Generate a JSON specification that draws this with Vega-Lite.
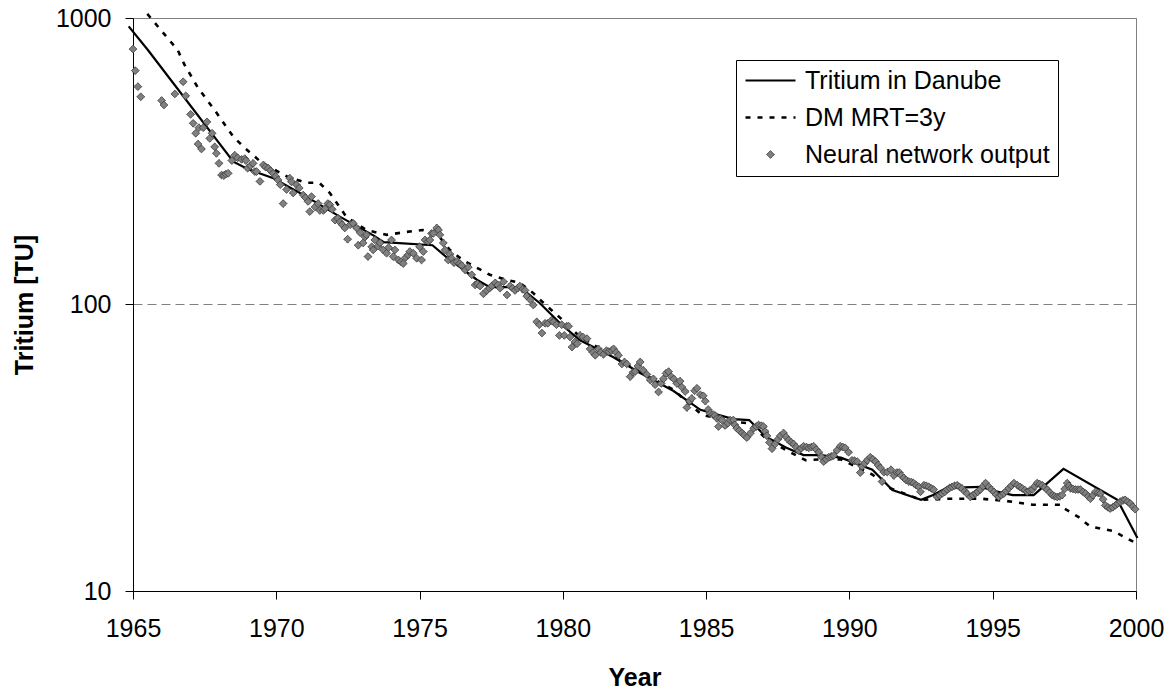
{
"$schema": "https://vega.github.io/schema/vega-lite/v6.json",
"width": 1003, "height": 573,
"autosize": "none",
"padding": {"left": 133, "top": 18, "right": 34, "bottom": 100},
"background": "white",
"config": {"view": {"stroke": "#808080", "strokeWidth": 1}, "font": "Liberation Sans",
"legend": {"orient": "none", "legendX": 603, "legendY": 42, "title": null,
"strokeColor": "black", "fillColor": "white", "padding": 8,
"labelFont": "Liberation Sans", "labelFontSize": 25, "labelColor": "black", "labelLimit": 400, "labelOffset": 8,
"clipHeight": 25, "rowPadding": 11, "symbolOpacity": 1}},
"datasets": {
"danube": [
{"t":1964.85,"v":935},{"t":1965.52,"v":773},{"t":1968.5,"v":315},{"t":1969.0,"v":297},{"t":1969.9,"v":276},
{"t":1971.05,"v":238},{"t":1972.2,"v":203},{"t":1973.4,"v":174},{"t":1973.75,"v":165},{"t":1975.45,"v":161},
{"t":1975.95,"v":146},{"t":1977.0,"v":122},{"t":1977.45,"v":115},{"t":1978.5,"v":115},{"t":1979.2,"v":101},
{"t":1979.9,"v":86},{"t":1980.6,"v":75},{"t":1981.75,"v":65.6},{"t":1982.7,"v":57.7},{"t":1983.85,"v":50},
{"t":1984.8,"v":42.9},{"t":1985.95,"v":39.8},{"t":1986.5,"v":39.5},{"t":1987.1,"v":34.5},{"t":1987.8,"v":31.6},
{"t":1988.4,"v":29.8},{"t":1989.0,"v":29.8},{"t":1989.7,"v":29.2},{"t":1990.8,"v":26.5},{"t":1991.5,"v":22.5},
{"t":1992.5,"v":20.8},{"t":1992.9,"v":21.6},{"t":1993.4,"v":22.9},{"t":1994.6,"v":23.1},{"t":1995.0,"v":22.4},
{"t":1995.7,"v":21.6},{"t":1996.43,"v":21.6},{"t":1997.47,"v":26.7},{"t":1999.35,"v":20.8},{"t":2000.05,"v":15.3}
],
"dm": [
{"t":1965.5,"v":1033},{"t":1966.56,"v":773},{"t":1966.8,"v":686},{"t":1967.27,"v":570},{"t":1967.85,"v":477},
{"t":1968.5,"v":385},{"t":1968.9,"v":352},{"t":1969.5,"v":312},{"t":1970.4,"v":279},{"t":1971.05,"v":266},
{"t":1971.5,"v":266},{"t":1971.87,"v":245},{"t":1972.45,"v":202},{"t":1973.15,"v":182},{"t":1973.85,"v":175},
{"t":1974.5,"v":179},{"t":1975.1,"v":182},{"t":1975.6,"v":177},{"t":1976.06,"v":155},{"t":1976.5,"v":143},
{"t":1977.45,"v":127},{"t":1978.0,"v":122},{"t":1978.5,"v":119},{"t":1978.95,"v":110},{"t":1979.4,"v":99.6},
{"t":1979.9,"v":90},{"t":1980.6,"v":77},{"t":1981.75,"v":66},{"t":1982.7,"v":58},{"t":1983.85,"v":50.5},
{"t":1984.85,"v":41.2},{"t":1985.95,"v":39},{"t":1986.5,"v":38.5},{"t":1987.1,"v":34},{"t":1987.8,"v":31},
{"t":1988.47,"v":28.6},{"t":1989.0,"v":28.8},{"t":1989.7,"v":28.8},{"t":1990.8,"v":25.5},{"t":1991.4,"v":22.9},
{"t":1992.5,"v":20.8},{"t":1993.5,"v":21},{"t":1994.6,"v":21},{"t":1995.5,"v":20.6},{"t":1996.4,"v":20.0},
{"t":1997.4,"v":20.0},{"t":1997.5,"v":19.4},{"t":1998.0,"v":18.1},{"t":1998.4,"v":16.8},{"t":1999.2,"v":16.2},{"t":2000.05,"v":14.6}
],
"nn": [
{"series":"Neural network output","t":1965.00,"v":779},{"series":"Neural network output","t":1965.08,"v":655},{"series":"Neural network output","t":1965.17,"v":576},{"series":"Neural network output","t":1965.27,"v":531},
{"series":"Neural network output","t":1966.00,"v":515},{"series":"Neural network output","t":1966.08,"v":497},{"series":"Neural network output","t":1966.46,"v":543},{"series":"Neural network output","t":1966.75,"v":599},{"series":"Neural network output","t":1966.84,"v":535},
{"series":"Neural network output","t":1967.01,"v":461},{"series":"Neural network output","t":1967.10,"v":429},{"series":"Neural network output","t":1967.19,"v":396},{"series":"Neural network output","t":1967.27,"v":363},{"series":"Neural network output","t":1967.30,"v":414},{"series":"Neural network output","t":1967.39,"v":349},{"series":"Neural network output","t":1967.45,"v":414},{"series":"Neural network output","t":1967.58,"v":434},{"series":"Neural network output","t":1967.68,"v":380},{"series":"Neural network output","t":1967.76,"v":396},{"series":"Neural network output","t":1967.85,"v":355},{"series":"Neural network output","t":1967.91,"v":337},
{"series":"Neural network output","t":1968.00,"v":311},{"series":"Neural network output","t":1968.09,"v":283},{"series":"Neural network output","t":1968.17,"v":282},{"series":"Neural network output","t":1968.24,"v":285},{"series":"Neural network output","t":1968.32,"v":287},{"series":"Neural network output","t":1968.45,"v":318},{"series":"Neural network output","t":1968.55,"v":332},{"series":"Neural network output","t":1968.65,"v":325},{"series":"Neural network output","t":1968.79,"v":321},{"series":"Neural network output","t":1968.90,"v":323},{"series":"Neural network output","t":1968.94,"v":318},
{"series":"Neural network output","t":1969.00,"v":299},{"series":"Neural network output","t":1969.10,"v":305},{"series":"Neural network output","t":1969.19,"v":311},{"series":"Neural network output","t":1969.25,"v":291},{"series":"Neural network output","t":1969.31,"v":291},{"series":"Neural network output","t":1969.43,"v":269},{"series":"Neural network output","t":1969.55,"v":307},{"series":"Neural network output","t":1969.62,"v":302},{"series":"Neural network output","t":1969.72,"v":299},{"series":"Neural network output","t":1969.80,"v":293},{"series":"Neural network output","t":1969.89,"v":287},{"series":"Neural network output","t":1969.98,"v":280},
{"series":"Neural network output","t":1970.06,"v":272},{"series":"Neural network output","t":1970.14,"v":262},{"series":"Neural network output","t":1970.24,"v":225},{"series":"Neural network output","t":1970.36,"v":252},{"series":"Neural network output","t":1970.47,"v":276},{"series":"Neural network output","t":1970.53,"v":268},{"series":"Neural network output","t":1970.59,"v":245},{"series":"Neural network output","t":1970.70,"v":262},{"series":"Neural network output","t":1970.80,"v":255},{"series":"Neural network output","t":1970.94,"v":241},
{"series":"Neural network output","t":1971.02,"v":236},{"series":"Neural network output","t":1971.11,"v":229},{"series":"Neural network output","t":1971.17,"v":211},{"series":"Neural network output","t":1971.23,"v":238},{"series":"Neural network output","t":1971.35,"v":219},{"series":"Neural network output","t":1971.46,"v":225},{"series":"Neural network output","t":1971.52,"v":213},{"series":"Neural network output","t":1971.64,"v":213},{"series":"Neural network output","t":1971.70,"v":216},{"series":"Neural network output","t":1971.80,"v":225},{"series":"Neural network output","t":1971.87,"v":223},{"series":"Neural network output","t":1971.95,"v":215},
{"series":"Neural network output","t":1972.05,"v":197},{"series":"Neural network output","t":1972.15,"v":200},{"series":"Neural network output","t":1972.22,"v":194},{"series":"Neural network output","t":1972.30,"v":190},{"series":"Neural network output","t":1972.39,"v":185},{"series":"Neural network output","t":1972.49,"v":169},{"series":"Neural network output","t":1972.58,"v":190},{"series":"Neural network output","t":1972.68,"v":192},{"series":"Neural network output","t":1972.80,"v":185},{"series":"Neural network output","t":1972.86,"v":161},{"series":"Neural network output","t":1972.93,"v":178},
{"series":"Neural network output","t":1973.03,"v":164},{"series":"Neural network output","t":1973.10,"v":172},{"series":"Neural network output","t":1973.15,"v":175},{"series":"Neural network output","t":1973.20,"v":147},{"series":"Neural network output","t":1973.33,"v":159},{"series":"Neural network output","t":1973.38,"v":155},{"series":"Neural network output","t":1973.44,"v":168},{"series":"Neural network output","t":1973.55,"v":160},{"series":"Neural network output","t":1973.62,"v":164},{"series":"Neural network output","t":1973.73,"v":155},{"series":"Neural network output","t":1973.85,"v":151},{"series":"Neural network output","t":1973.92,"v":158},
{"series":"Neural network output","t":1974.02,"v":168},{"series":"Neural network output","t":1974.08,"v":147},{"series":"Neural network output","t":1974.14,"v":155},{"series":"Neural network output","t":1974.26,"v":143},{"series":"Neural network output","t":1974.35,"v":141},{"series":"Neural network output","t":1974.43,"v":139},{"series":"Neural network output","t":1974.52,"v":146},{"series":"Neural network output","t":1974.60,"v":149},{"series":"Neural network output","t":1974.66,"v":153},{"series":"Neural network output","t":1974.78,"v":151},{"series":"Neural network output","t":1974.90,"v":145},
{"series":"Neural network output","t":1975.00,"v":159},{"series":"Neural network output","t":1975.07,"v":143},{"series":"Neural network output","t":1975.13,"v":153},{"series":"Neural network output","t":1975.19,"v":168},{"series":"Neural network output","t":1975.30,"v":166},{"series":"Neural network output","t":1975.36,"v":168},{"series":"Neural network output","t":1975.42,"v":177},{"series":"Neural network output","t":1975.48,"v":177},{"series":"Neural network output","t":1975.60,"v":185},{"series":"Neural network output","t":1975.66,"v":182},{"series":"Neural network output","t":1975.71,"v":175},{"series":"Neural network output","t":1975.83,"v":164},{"series":"Neural network output","t":1975.89,"v":155},
{"series":"Neural network output","t":1976.00,"v":143},{"series":"Neural network output","t":1976.06,"v":150},{"series":"Neural network output","t":1976.12,"v":145},{"series":"Neural network output","t":1976.20,"v":140},{"series":"Neural network output","t":1976.30,"v":141},{"series":"Neural network output","t":1976.40,"v":139},{"series":"Neural network output","t":1976.47,"v":137},{"series":"Neural network output","t":1976.59,"v":132},{"series":"Neural network output","t":1976.70,"v":135},{"series":"Neural network output","t":1976.82,"v":127},{"series":"Neural network output","t":1976.94,"v":117},
{"series":"Neural network output","t":1977.02,"v":118},{"series":"Neural network output","t":1977.11,"v":116},{"series":"Neural network output","t":1977.23,"v":109},{"series":"Neural network output","t":1977.35,"v":112},{"series":"Neural network output","t":1977.44,"v":114},{"series":"Neural network output","t":1977.52,"v":116},{"series":"Neural network output","t":1977.64,"v":119},{"series":"Neural network output","t":1977.73,"v":117},{"series":"Neural network output","t":1977.81,"v":114},{"series":"Neural network output","t":1977.93,"v":120},
{"series":"Neural network output","t":1978.05,"v":108},{"series":"Neural network output","t":1978.16,"v":116},{"series":"Neural network output","t":1978.25,"v":114},{"series":"Neural network output","t":1978.33,"v":112},{"series":"Neural network output","t":1978.42,"v":114},{"series":"Neural network output","t":1978.50,"v":116},{"series":"Neural network output","t":1978.60,"v":113},{"series":"Neural network output","t":1978.68,"v":112},{"series":"Neural network output","t":1978.74,"v":107},{"series":"Neural network output","t":1978.86,"v":104},{"series":"Neural network output","t":1978.97,"v":99.6},
{"series":"Neural network output","t":1979.09,"v":87},{"series":"Neural network output","t":1979.18,"v":85},{"series":"Neural network output","t":1979.27,"v":79.5},{"series":"Neural network output","t":1979.38,"v":86},{"series":"Neural network output","t":1979.48,"v":86},{"series":"Neural network output","t":1979.60,"v":88},{"series":"Neural network output","t":1979.67,"v":87},{"series":"Neural network output","t":1979.78,"v":85},{"series":"Neural network output","t":1979.88,"v":78},{"series":"Neural network output","t":1979.96,"v":85},
{"series":"Neural network output","t":1980.05,"v":78},{"series":"Neural network output","t":1980.13,"v":84},{"series":"Neural network output","t":1980.20,"v":84},{"series":"Neural network output","t":1980.25,"v":77},{"series":"Neural network output","t":1980.32,"v":71},{"series":"Neural network output","t":1980.42,"v":74},{"series":"Neural network output","t":1980.50,"v":73},{"series":"Neural network output","t":1980.60,"v":78},{"series":"Neural network output","t":1980.70,"v":77},{"series":"Neural network output","t":1980.84,"v":76},{"series":"Neural network output","t":1980.95,"v":70},
{"series":"Neural network output","t":1981.05,"v":68},{"series":"Neural network output","t":1981.13,"v":66.5},{"series":"Neural network output","t":1981.24,"v":70},{"series":"Neural network output","t":1981.33,"v":68},{"series":"Neural network output","t":1981.42,"v":67},{"series":"Neural network output","t":1981.52,"v":69},{"series":"Neural network output","t":1981.60,"v":68.5},{"series":"Neural network output","t":1981.70,"v":69},{"series":"Neural network output","t":1981.77,"v":70},{"series":"Neural network output","t":1981.86,"v":68},{"series":"Neural network output","t":1981.94,"v":66.5},
{"series":"Neural network output","t":1982.06,"v":62},{"series":"Neural network output","t":1982.15,"v":63},{"series":"Neural network output","t":1982.23,"v":62},{"series":"Neural network output","t":1982.35,"v":56},{"series":"Neural network output","t":1982.45,"v":58},{"series":"Neural network output","t":1982.52,"v":58.3},{"series":"Neural network output","t":1982.62,"v":61},{"series":"Neural network output","t":1982.70,"v":63},{"series":"Neural network output","t":1982.80,"v":59},{"series":"Neural network output","t":1982.93,"v":57},
{"series":"Neural network output","t":1983.05,"v":54.5},{"series":"Neural network output","t":1983.16,"v":55},{"series":"Neural network output","t":1983.22,"v":52.5},{"series":"Neural network output","t":1983.34,"v":49.5},{"series":"Neural network output","t":1983.43,"v":53},{"series":"Neural network output","t":1983.51,"v":55},{"series":"Neural network output","t":1983.60,"v":57.5},{"series":"Neural network output","t":1983.69,"v":58.3},{"series":"Neural network output","t":1983.78,"v":56},{"series":"Neural network output","t":1983.87,"v":55},{"series":"Neural network output","t":1983.98,"v":53},
{"series":"Neural network output","t":1984.09,"v":54},{"series":"Neural network output","t":1984.15,"v":51.5},{"series":"Neural network output","t":1984.27,"v":49.7},{"series":"Neural network output","t":1984.33,"v":43.7},{"series":"Neural network output","t":1984.42,"v":46},{"series":"Neural network output","t":1984.50,"v":47},{"series":"Neural network output","t":1984.60,"v":50},{"series":"Neural network output","t":1984.68,"v":51},{"series":"Neural network output","t":1984.80,"v":48.4},{"series":"Neural network output","t":1984.90,"v":48},{"series":"Neural network output","t":1984.97,"v":46},
{"series":"Neural network output","t":1985.07,"v":43},{"series":"Neural network output","t":1985.14,"v":41.7},{"series":"Neural network output","t":1985.24,"v":41.3},{"series":"Neural network output","t":1985.31,"v":41},{"series":"Neural network output","t":1985.38,"v":40},{"series":"Neural network output","t":1985.43,"v":37.5},{"series":"Neural network output","t":1985.49,"v":40},{"series":"Neural network output","t":1985.55,"v":39.5},{"series":"Neural network output","t":1985.66,"v":37.8},{"series":"Neural network output","t":1985.76,"v":38.5},{"series":"Neural network output","t":1985.84,"v":39.5},{"series":"Neural network output","t":1985.95,"v":39.5},
{"series":"Neural network output","t":1986.00,"v":38},{"series":"Neural network output","t":1986.07,"v":37},{"series":"Neural network output","t":1986.16,"v":36.3},{"series":"Neural network output","t":1986.25,"v":35.6},{"series":"Neural network output","t":1986.33,"v":35},{"series":"Neural network output","t":1986.42,"v":34.3},{"series":"Neural network output","t":1986.54,"v":35.5},{"series":"Neural network output","t":1986.66,"v":37},{"series":"Neural network output","t":1986.75,"v":37.5},{"series":"Neural network output","t":1986.83,"v":38},{"series":"Neural network output","t":1986.92,"v":37.8},
{"series":"Neural network output","t":1987.00,"v":37.5},{"series":"Neural network output","t":1987.06,"v":36},{"series":"Neural network output","t":1987.12,"v":34.8},{"series":"Neural network output","t":1987.21,"v":33},{"series":"Neural network output","t":1987.30,"v":31.4},{"series":"Neural network output","t":1987.41,"v":32.6},{"series":"Neural network output","t":1987.50,"v":33.8},{"series":"Neural network output","t":1987.59,"v":34.8},{"series":"Neural network output","t":1987.70,"v":35.6},{"series":"Neural network output","t":1987.79,"v":34.5},{"series":"Neural network output","t":1987.88,"v":33.6},{"series":"Neural network output","t":1987.97,"v":33},
{"series":"Neural network output","t":1988.05,"v":32.6},{"series":"Neural network output","t":1988.14,"v":31.8},{"series":"Neural network output","t":1988.23,"v":30.9},{"series":"Neural network output","t":1988.32,"v":31.5},{"series":"Neural network output","t":1988.40,"v":32},{"series":"Neural network output","t":1988.50,"v":31.8},{"series":"Neural network output","t":1988.58,"v":31.6},{"series":"Neural network output","t":1988.67,"v":31.8},{"series":"Neural network output","t":1988.75,"v":32},{"series":"Neural network output","t":1988.84,"v":31.2},{"series":"Neural network output","t":1988.93,"v":30.5},
{"series":"Neural network output","t":1989.02,"v":29.4},{"series":"Neural network output","t":1989.10,"v":28.3},{"series":"Neural network output","t":1989.19,"v":28.8},{"series":"Neural network output","t":1989.28,"v":29.3},{"series":"Neural network output","t":1989.37,"v":29.5},{"series":"Neural network output","t":1989.45,"v":29.7},{"series":"Neural network output","t":1989.57,"v":31},{"series":"Neural network output","t":1989.68,"v":32},{"series":"Neural network output","t":1989.77,"v":31.8},{"series":"Neural network output","t":1989.85,"v":31.6},{"series":"Neural network output","t":1989.97,"v":30.5},
{"series":"Neural network output","t":1990.09,"v":28.6},{"series":"Neural network output","t":1990.18,"v":28.5},{"series":"Neural network output","t":1990.27,"v":28.3},{"series":"Neural network output","t":1990.38,"v":25.9},{"series":"Neural network output","t":1990.44,"v":27.2},{"series":"Neural network output","t":1990.53,"v":27.9},{"series":"Neural network output","t":1990.62,"v":28.6},{"series":"Neural network output","t":1990.73,"v":29.3},{"series":"Neural network output","t":1990.82,"v":28.8},{"series":"Neural network output","t":1990.91,"v":28.3},
{"series":"Neural network output","t":1991.00,"v":27.5},{"series":"Neural network output","t":1991.08,"v":26.9},{"series":"Neural network output","t":1991.14,"v":24.1},{"series":"Neural network output","t":1991.20,"v":26},{"series":"Neural network output","t":1991.32,"v":26},{"series":"Neural network output","t":1991.45,"v":26.5},{"series":"Neural network output","t":1991.55,"v":25.3},{"series":"Neural network output","t":1991.66,"v":25.9},{"series":"Neural network output","t":1991.74,"v":25.9},{"series":"Neural network output","t":1991.81,"v":25.3},{"series":"Neural network output","t":1991.90,"v":24.8},{"series":"Neural network output","t":1991.98,"v":24.4},
{"series":"Neural network output","t":1992.07,"v":24.1},{"series":"Neural network output","t":1992.16,"v":24},{"series":"Neural network output","t":1992.24,"v":23.8},{"series":"Neural network output","t":1992.33,"v":23.4},{"series":"Neural network output","t":1992.42,"v":23.1},{"series":"Neural network output","t":1992.48,"v":22.2},{"series":"Neural network output","t":1992.60,"v":23.4},{"series":"Neural network output","t":1992.68,"v":23.3},{"series":"Neural network output","t":1992.77,"v":23.1},{"series":"Neural network output","t":1992.86,"v":22.8},{"series":"Neural network output","t":1992.94,"v":22.6},
{"series":"Neural network output","t":1993.06,"v":21.3},{"series":"Neural network output","t":1993.15,"v":21.6},{"series":"Neural network output","t":1993.24,"v":21.9},{"series":"Neural network output","t":1993.33,"v":22.2},{"series":"Neural network output","t":1993.41,"v":22.6},{"series":"Neural network output","t":1993.50,"v":22.9},{"series":"Neural network output","t":1993.58,"v":23.1},{"series":"Neural network output","t":1993.67,"v":23.3},{"series":"Neural network output","t":1993.76,"v":23.4},{"series":"Neural network output","t":1993.84,"v":23.1},{"series":"Neural network output","t":1993.93,"v":22.8},
{"series":"Neural network output","t":1994.02,"v":22.3},{"series":"Neural network output","t":1994.10,"v":21.9},{"series":"Neural network output","t":1994.22,"v":21.3},{"series":"Neural network output","t":1994.31,"v":21.6},{"series":"Neural network output","t":1994.40,"v":21.9},{"series":"Neural network output","t":1994.48,"v":22.2},{"series":"Neural network output","t":1994.57,"v":22.6},{"series":"Neural network output","t":1994.66,"v":23.2},{"series":"Neural network output","t":1994.75,"v":23.8},{"series":"Neural network output","t":1994.86,"v":23.1},{"series":"Neural network output","t":1994.95,"v":22.6},
{"series":"Neural network output","t":1995.04,"v":22.2},{"series":"Neural network output","t":1995.12,"v":21.7},{"series":"Neural network output","t":1995.21,"v":21.3},{"series":"Neural network output","t":1995.30,"v":21.6},{"series":"Neural network output","t":1995.39,"v":21.9},{"series":"Neural network output","t":1995.47,"v":22.3},{"series":"Neural network output","t":1995.56,"v":22.8},{"series":"Neural network output","t":1995.65,"v":23.3},{"series":"Neural network output","t":1995.74,"v":23.8},{"series":"Neural network output","t":1995.86,"v":23.4},{"series":"Neural network output","t":1995.95,"v":23.1},
{"series":"Neural network output","t":1996.03,"v":22.8},{"series":"Neural network output","t":1996.12,"v":22.5},{"series":"Neural network output","t":1996.20,"v":22.2},{"series":"Neural network output","t":1996.29,"v":22.4},{"series":"Neural network output","t":1996.38,"v":22.6},{"series":"Neural network output","t":1996.46,"v":23.2},{"series":"Neural network output","t":1996.55,"v":23.8},{"series":"Neural network output","t":1996.64,"v":23.6},{"series":"Neural network output","t":1996.73,"v":23.4},{"series":"Neural network output","t":1996.81,"v":23},{"series":"Neural network output","t":1996.90,"v":22.6},{"series":"Neural network output","t":1996.99,"v":22.1},
{"series":"Neural network output","t":1997.08,"v":21.6},{"series":"Neural network output","t":1997.16,"v":21.4},{"series":"Neural network output","t":1997.25,"v":21.3},{"series":"Neural network output","t":1997.34,"v":21.4},{"series":"Neural network output","t":1997.42,"v":21.6},{"series":"Neural network output","t":1997.51,"v":22.7},{"series":"Neural network output","t":1997.60,"v":23.8},{"series":"Neural network output","t":1997.66,"v":23.3},{"series":"Neural network output","t":1997.72,"v":22.8},{"series":"Neural network output","t":1997.80,"v":22.7},{"series":"Neural network output","t":1997.89,"v":22.6},{"series":"Neural network output","t":1997.98,"v":22.6},
{"series":"Neural network output","t":1998.06,"v":22.6},{"series":"Neural network output","t":1998.15,"v":22.2},{"series":"Neural network output","t":1998.24,"v":21.9},{"series":"Neural network output","t":1998.33,"v":21.4},{"series":"Neural network output","t":1998.41,"v":21},{"series":"Neural network output","t":1998.50,"v":21.6},{"series":"Neural network output","t":1998.59,"v":22.2},{"series":"Neural network output","t":1998.68,"v":22},{"series":"Neural network output","t":1998.76,"v":21.9},{"series":"Neural network output","t":1998.85,"v":20.9},{"series":"Neural network output","t":1998.93,"v":19.9},
{"series":"Neural network output","t":1999.02,"v":19.6},{"series":"Neural network output","t":1999.10,"v":19.4},{"series":"Neural network output","t":1999.19,"v":19.6},{"series":"Neural network output","t":1999.28,"v":19.9},{"series":"Neural network output","t":1999.36,"v":20.2},{"series":"Neural network output","t":1999.45,"v":20.5},{"series":"Neural network output","t":1999.54,"v":20.7},{"series":"Neural network output","t":1999.62,"v":20.8},{"series":"Neural network output","t":1999.71,"v":20.5},{"series":"Neural network output","t":1999.80,"v":20.2},{"series":"Neural network output","t":1999.89,"v":19.7},{"series":"Neural network output","t":1999.97,"v":19.3}
]
},
"layer": [
{
"data": {"name": "danube"},
"mark": {"type": "line", "clip": false, "color": "black", "strokeWidth": 2.2},
"encoding": {
"x": {"field": "t", "type": "quantitative", "title": "Year",
"scale": {"domain": [1965, 2000], "nice": false, "zero": false},
"axis": {"values": [1965,1970,1975,1980,1985,1990,1995,2000], "format": "d", "grid": false, "labelFlush": false,
"labelFont": "Liberation Sans", "labelFontSize": 25, "labelColor": "black", "labelPadding": 17,
"tickColor": "black", "tickSize": 8, "domainColor": "black", "domainWidth": 1,
"titleFont": "Liberation Sans", "titleFontSize": 25, "titleFontWeight": "bold", "titleColor": "black", "titlePadding": 24}},
"y": {"field": "v", "type": "quantitative", "title": "Tritium [TU]",
"scale": {"type": "log", "domain": [10, 1000], "nice": false},
"axis": {"values": [10, 100, 1000], "format": "d", "grid": true, "gridColor": "#808080", "gridDash": [9, 5], "gridWidth": 1,
"labelFont": "Liberation Sans", "labelFontSize": 25, "labelColor": "black", "labelPadding": 14,
"tickColor": "black", "tickSize": 8, "domainColor": "black", "domainWidth": 1,
"titleFont": "Liberation Sans", "titleFontSize": 25, "titleFontWeight": "bold", "titleColor": "black", "titlePadding": 18}}
}
},
{
"data": {"name": "dm"},
"mark": {"type": "line", "clip": false, "color": "black", "strokeWidth": 2.6, "strokeDash": [5, 7]},
"encoding": {
"x": {"field": "t", "type": "quantitative"},
"y": {"field": "v", "type": "quantitative"}
}
},
{
"data": {"name": "nn"},
"mark": {"type": "point", "filled": true, "opacity": 1},
"encoding": {
"x": {"field": "t", "type": "quantitative"},
"y": {"field": "v", "type": "quantitative"},
"shape": {"field": "series", "type": "nominal",
"scale": {"domain": ["Tritium in Danube", "DM MRT=3y", "Neural network output"], "range": ["stroke", "stroke", "diamond"]}},
"size": {"field": "series", "type": "nominal",
"scale": {"type": "ordinal", "domain": ["Tritium in Danube", "DM MRT=3y", "Neural network output"], "range": [2500, 2500, 60]}},
"fill": {"field": "series", "type": "nominal",
"scale": {"domain": ["Tritium in Danube", "DM MRT=3y", "Neural network output"], "range": ["transparent", "transparent", "#808080"]}},
"stroke": {"field": "series", "type": "nominal",
"scale": {"domain": ["Tritium in Danube", "DM MRT=3y", "Neural network output"], "range": ["black", "black", "#404040"]}},
"strokeWidth": {"field": "series", "type": "nominal",
"scale": {"type": "ordinal", "domain": ["Tritium in Danube", "DM MRT=3y", "Neural network output"], "range": [2.2, 2.6, 1]}},
"strokeDash": {"field": "series", "type": "nominal",
"scale": {"domain": ["Tritium in Danube", "DM MRT=3y", "Neural network output"], "range": [[1, 0], [5, 7], [1, 0]]}}
}
}
]
}
